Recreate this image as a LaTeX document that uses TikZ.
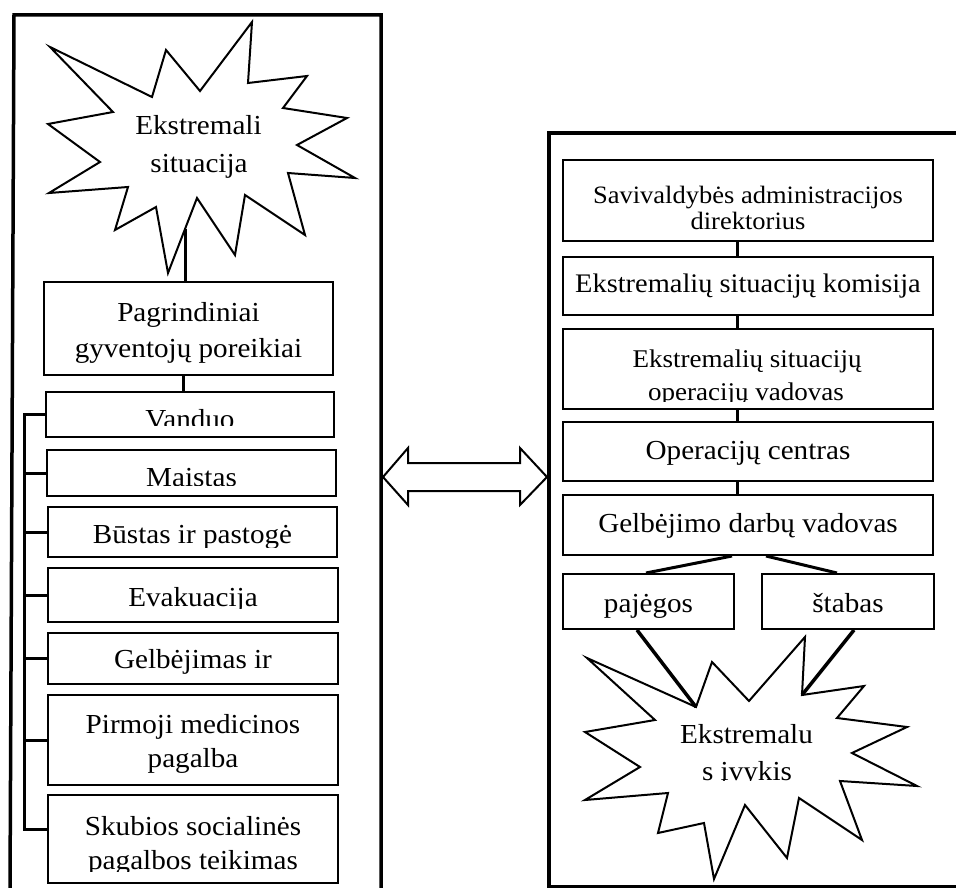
\documentclass[tikz,border=0pt]{standalone}
\usepackage{fontspec}
\setmainfont{Liberation Serif}[FakeStretch=1.06]
\begin{document}
\begin{tikzpicture}[x=1pt,y=-1pt,
  box/.style={draw,line width=2pt,inner sep=0pt},
  frame/.style={line width=3.5pt},
  conn/.style={line width=3pt},
  burst/.style={draw,line width=2pt,line join=miter,fill=white},
  txt/.style={inner sep=0pt,anchor=base,font=\fontsize{27.5}{33}\selectfont},
  txs/.style={txt,font=\fontsize{25}{30}\selectfont},
]
\useasboundingbox (0,0) rectangle (956,888);

% frames
\draw[frame] (10,890) -- (14,15) -- (381,15) -- (381,890);
\draw[frame] (958,133) -- (549,133) -- (549,887) -- (958,887);

% double arrow between the frames
\draw[line width=2pt,line join=miter] (383,477) -- (408,448) -- (408,463) -- (520,463) -- (520,448)
  -- (547,477) -- (520,505) -- (520,491) -- (408,491) -- (408,505) -- cycle;

% left star
\draw[burst] (50,47) -- (152,97) -- (166,50) -- (200,91) -- (252,22) -- (248,83) -- (307,76)
  -- (283,108) -- (347,118) -- (297,145) -- (355,178) -- (288,173) -- (305,235) -- (245,195)
  -- (235,255) -- (197,198) -- (168,273) -- (156,207) -- (115,230) -- (128,187) -- (49,193)
  -- (100,162) -- (48,124) -- (113,112) -- cycle;
\coordinate (lsA) at (185,229);
\node[txt] (st1) at (198.5,135) {Ekstremali};
\node[txt] (st2) at (199,172) {situacija};

% left boxes
\node[box,minimum width=289pt,minimum height=93pt] (pag) at (188.5,328.5) {};
\node[box,minimum width=288pt,minimum height=45pt] (van) at (190,414.5) {};
\node[box,minimum width=289pt,minimum height=46pt] (mai) at (191.5,473) {};
\node[box,minimum width=289pt,minimum height=50pt] (bus) at (192.5,532) {};
\node[box,minimum width=290pt,minimum height=54pt] (eva) at (193,595) {};
\node[box,minimum width=290pt,minimum height=51pt] (gel) at (193,658.5) {};
\node[box,minimum width=290pt,minimum height=90pt] (pir) at (193,740) {};
\node[box,minimum width=290pt,minimum height=88pt] (sku) at (193,839) {};

\node[txt] (pag1) at (188.5,321) {Pagrindiniai};
\node[txt] (pag2) at (188.5,357) {gyventojų poreikiai};
\begin{scope}\clip (46,392) rectangle (334,425);
  \node[txt] (vant) at (190,428) {Vanduo};\end{scope}
\begin{scope}\clip (47,450) rectangle (336,485);
  \node[txt] (mait) at (191.5,486) {Maistas};\end{scope}
\begin{scope}\clip (48,507) rectangle (337,547);
  \node[txt] (bust) at (192.5,543) {Būstas ir pastogė};\end{scope}
\begin{scope}\clip (48,568) rectangle (338,608);
  \node[txt] (evat) at (193,606) {Evakuacija};\end{scope}
\begin{scope}\clip (48,633) rectangle (338,673);
  \node[txt] (gelt) at (193,668) {Gelbėjimas ir};\end{scope}
\node[txt] (pir1) at (193,733) {Pirmoji medicinos};
\node[txt] (pir2) at (193,767) {pagalba};
\node[txt] (sku1) at (193,835) {Skubios socialinės};
\begin{scope}\clip (48,795) rectangle (338,871);
  \node[txt] (sku2) at (193,869) {pagalbos teikimas};\end{scope}

% left connectors
\draw[conn] (lsA) -- (lsA |- pag.north);
\draw[conn] ([xshift=-5.5pt]pag.south) -- ([xshift=-5.5pt]pag.south |- van.north);
\coordinate (busT) at (24,414.5);
\draw[conn] (van.west) -- (busT) -- (busT |- 0,829) -- ([yshift=10pt]sku.west);
\foreach \n in {mai,bus,eva,gel,pir}
  \draw[conn] (\n.west) -- (\n.west -| busT);

% right boxes
\node[box,minimum width=370pt,minimum height=81pt] (sav) at (748,200.5) {};
\node[box,minimum width=370pt,minimum height=58pt] (kom) at (748,286) {};
\node[box,minimum width=370pt,minimum height=80pt] (esv) at (748,369) {};
\node[box,minimum width=370pt,minimum height=59pt] (opc) at (748,451.5) {};
\node[box,minimum width=370pt,minimum height=60pt] (gdv) at (748,525) {};
\node[box,minimum width=171pt,minimum height=55pt] (paj) at (648.5,601.5) {};
\node[box,minimum width=172pt,minimum height=55pt] (sta) at (848,601.5) {};

\node[txs] (sav1) at (748,204) {Savivaldybės administracijos};
\node[txs] (sav2) at (748,229) {direktorius};
\node[txt,font=\fontsize{26.8}{32}\selectfont] (komt) at (748,292) {Ekstremalių situacijų komisija};
\node[txt,font=\fontsize{25.5}{31}\selectfont] (esv1) at (747,367) {Ekstremalių situacijų};
\begin{scope}\clip (563,329) rectangle (933,401);
  \node[txt,font=\fontsize{25.5}{31}\selectfont] (esv2) at (746,400) {operacijų vadovas};\end{scope}
\node[txt] (opct) at (748,459) {Operacijų centras};
\node[txt] (gdvt) at (748,532) {Gelbėjimo darbų vadovas};
\node[txt] (pajt) at (648.5,612) {pajėgos};
\node[txt] (stat) at (848,612) {štabas};

% right star
\draw[burst] (587,658) -- (696,707) -- (712,662) -- (749,701) -- (805,637) -- (802,695)
  -- (864,686) -- (837,718) -- (907,727) -- (852,753) -- (917,786) -- (840,781) -- (862,840)
  -- (799,798) -- (787,858) -- (745,805) -- (714,879) -- (704,823) -- (658,833) -- (668,793)
  -- (585,800) -- (640,767) -- (585,732) -- (655,720) -- cycle;
\coordinate (rsA) at (696,707);
\coordinate (rsB) at (802,695);
\node[txt] (rs1) at (746.5,743) {Ekstremalu};
\begin{scope}\clip (650,750) rectangle (850,780.8);
  \node[txt] (rs2) at (747,780) {s įvykis};\end{scope}

% right connectors
\foreach \a/\b in {sav/kom,kom/esv,esv/opc,opc/gdv}
  \draw[conn] ([xshift=-11pt]\a.south) -- ([xshift=-11pt]\b.north);
\draw[conn] ([xshift=-16pt]gdv.south) -- ([xshift=-2.5pt]paj.north);
\draw[conn] ([xshift=18pt]gdv.south) -- ([xshift=-11pt]sta.north);
\draw[conn,line width=3.5pt] ([xshift=-11.5pt]paj.south) -- (rsA);
\draw[conn,line width=3.5pt] ([xshift=6pt]sta.south) -- (rsB);
\end{tikzpicture}
\end{document}
